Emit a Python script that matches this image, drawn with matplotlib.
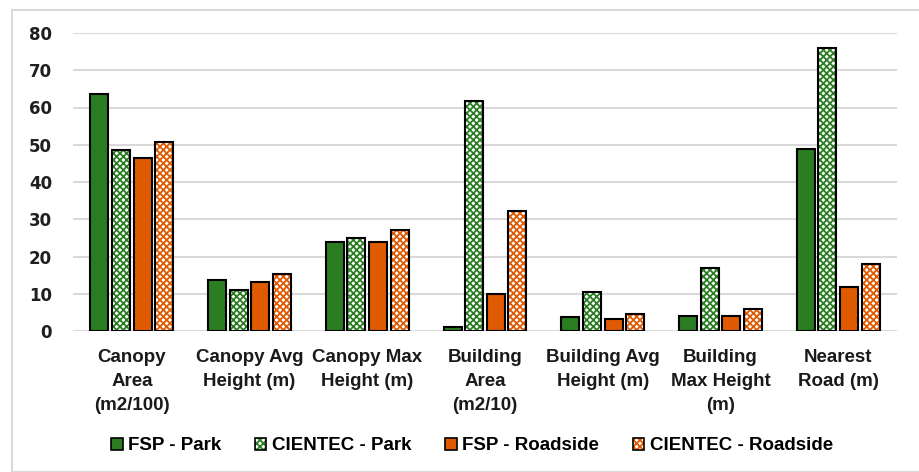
import matplotlib
matplotlib.use("Agg")
import matplotlib.pyplot as plt
from matplotlib import font_manager
from matplotlib.patches import Rectangle, Patch
import numpy as np

categories = [
    "Canopy\nArea\n(m2/100)",
    "Canopy Avg\nHeight (m)",
    "Canopy Max\nHeight (m)",
    "Building\nArea\n(m2/10)",
    "Building Avg\nHeight (m)",
    "Building\nMax Height\n(m)",
    "Nearest\nRoad (m)",
]
series_names = ["FSP - Park", "CIENTEC - Park", "FSP - Roadside", "CIENTEC - Roadside"]
fsp_park = [63.7, 13.6, 23.9, 1.1, 3.8, 4.0, 48.9]
cientec_park = [48.5, 11.1, 25.1, 61.7, 10.6, 16.8, 76.0]
fsp_roadside = [46.5, 13.1, 23.9, 9.9, 3.1, 4.0, 11.9]
cientec_roadside = [50.7, 15.3, 27.2, 32.2, 4.5, 5.9, 18.0]
y_ticks = [0, 10, 20, 30, 40, 50, 60, 70, 80]

GREEN = "#2B7D22"
ORANGE = "#E05A00"

installed = {f.name for f in font_manager.fontManager.ttflist}
label_family = ["Liberation Sans Narrow", "Liberation Sans"] if "Liberation Sans Narrow" in installed else ["Liberation Sans"]

plt.rcParams["hatch.linewidth"] = 1.3

W, H = 919, 472
fig = plt.figure(figsize=(W / 100, H / 100), dpi=100)
ax = fig.add_axes([73 / W, 1 - 331 / H, (897 - 73) / W, (331 - 33) / H])

x = np.arange(len(categories))
slot = 0.184
width = 0.153
series = [
    (fsp_park, GREEN, False),
    (cientec_park, GREEN, True),
    (fsp_roadside, ORANGE, False),
    (cientec_roadside, ORANGE, True),
]
for i, (vals, color, hatched) in enumerate(series):
    pos = x + (i - 1.5) * slot
    if hatched:
        ax.bar(pos, vals, width, color="white", edgecolor=color, hatch="xxxxx",
               linewidth=0, zorder=3)
        ax.bar(pos, vals, width, fill=False, edgecolor="black", linewidth=1.5, zorder=4)
    else:
        ax.bar(pos, vals, width, color=color, edgecolor="black", linewidth=1.5, zorder=3)

ax.set_xlim(-0.5, len(categories) - 0.5)
ax.set_ylim(0, 80)
ax.set_yticks(y_ticks)
ax.set_yticklabels([str(t) for t in y_ticks], fontsize=12, fontweight="bold",
                   color="#1f1f1f", family="DejaVu Sans")
ax.grid(axis="y", color="#D9D9D9", linewidth=1.5, zorder=0)
ax.set_axisbelow(True)
for s in ax.spines.values():
    s.set_visible(False)
ax.tick_params(axis="y", length=0, pad=15)
ax.tick_params(axis="x", length=0, pad=13)
ax.set_xticks(x)
ax.set_xticklabels(categories, fontsize=13.5, fontweight="bold", color="#1a1a1a",
                   family=label_family, linespacing=1.55, va="top")

handles = []
for name, (vals, color, hatched) in zip(series_names, series):
    if hatched:
        handles.append(Patch(facecolor="white", edgecolor="black", hatch="xxxxx",
                             linewidth=1.2, label=name))
    else:
        handles.append(Patch(facecolor=color, edgecolor="black", linewidth=1.2, label=name))
leg = fig.legend(handles=handles, loc="center", bbox_to_anchor=(472 / W, 1 - 446 / H),
                 ncol=4, frameon=False, handlelength=0.6, handleheight=0.6,
                 handletextpad=0.3, columnspacing=1.8,
                 prop={"family": label_family, "weight": "bold", "size": 13.5})
for h, (vals, color, hatched) in zip(leg.legend_handles, series):
    if hatched:
        h._hatch_color = matplotlib.colors.to_rgba(color)

fig.patches.append(Rectangle((12 / W, 0), 2.0, 1 - 10 / H, transform=fig.transFigure,
                             fill=False, edgecolor="#D9D9D9", linewidth=1.5))

fig.savefig("out.png", dpi=100)
